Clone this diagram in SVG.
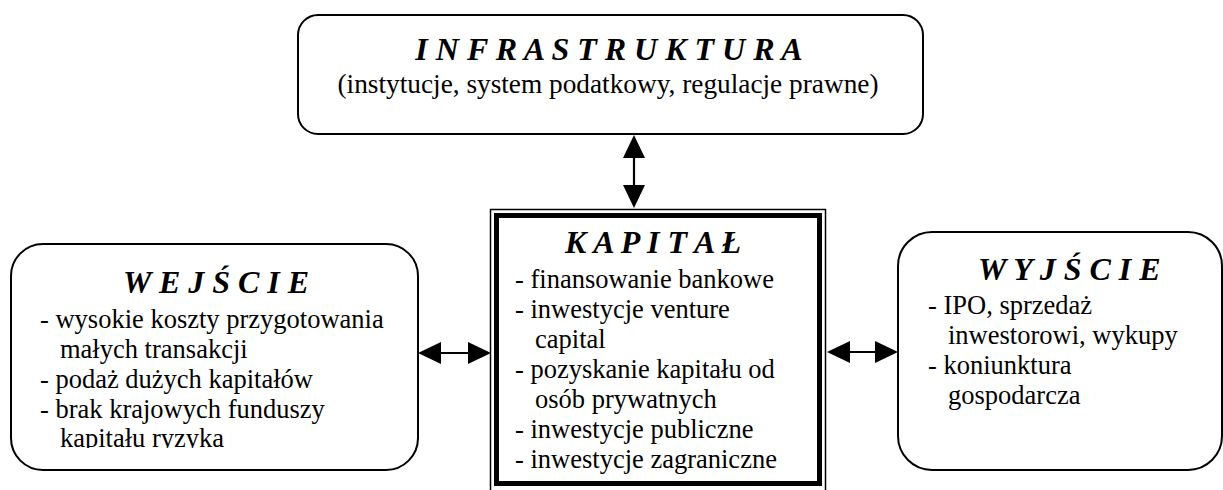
<svg xmlns="http://www.w3.org/2000/svg" width="1223" height="490" viewBox="0 0 1223 490">
<style>
.box{fill:#fff;stroke:#000;stroke-width:2}
.title{font-family:"Liberation Serif","Times New Roman",serif;font-weight:bold;font-style:italic;font-size:32px;fill:#000}
.txt{font-family:"Liberation Serif","Times New Roman",serif;font-size:26.5px;fill:#000}
.sub{font-family:"Liberation Serif","Times New Roman",serif;font-size:27.3px;fill:#000}
.conn{stroke:#000;stroke-width:2.2;fill:none}
</style>
<defs>
<marker id="ah" viewBox="0 0 23 22" refX="11" refY="11" markerWidth="23" markerHeight="22" markerUnits="userSpaceOnUse" orient="auto-start-reverse">
<path d="M0,0 L23,11 L0,22 z" fill="#000"/>
</marker>
<clipPath id="clipL"><rect x="0" y="0" width="430" height="448"/></clipPath>
</defs>
<rect width="1223" height="490" fill="#fff"/>
<g id="infrastruktura">
<rect class="box" x="298" y="15" width="625" height="119" rx="20" ry="20"/>
<text class="title" x="609" y="60" text-anchor="middle">I N F R A S T R U K T U R A</text>
<text class="sub" x="608" y="93" text-anchor="middle">(instytucje, system podatkowy, regulacje prawne)</text>
</g>
<g id="kapital">
<rect x="490.5" y="209.5" width="335" height="290" fill="#fff" stroke="#000" stroke-width="1.5"/>
<rect x="496.5" y="215.5" width="323" height="268" fill="none" stroke="#000" stroke-width="5"/>
<text class="title" x="565" y="253">K A P I T A Ł</text>
<text class="txt" x="515" y="288">- finansowanie bankowe</text>
<text class="txt" x="515" y="318">- inwestycje venture</text>
<text class="txt" x="535" y="348">capital</text>
<text class="txt" x="515" y="378">- pozyskanie kapitału od</text>
<text class="txt" x="535" y="408">osób prywatnych</text>
<text class="txt" x="515" y="438">- inwestycje publiczne</text>
<text class="txt" x="515" y="468">- inwestycje zagraniczne</text>
</g>
<g id="wejscie">
<rect class="box" x="11" y="244" width="407" height="226" rx="32" ry="32"/>
<text class="title" x="123" y="293">W E J Ś C I E</text>
<g clip-path="url(#clipL)">
<text class="txt" x="40" y="328">- wysokie koszty przygotowania</text>
<text class="txt" x="60" y="358">małych transakcji</text>
<text class="txt" x="40" y="388">- podaż dużych kapitałów</text>
<text class="txt" x="40" y="418">- brak krajowych funduszy</text>
<text class="txt" x="60" y="447">kapitału ryzyka</text>
</g>
</g>
<g id="wyjscie">
<rect class="box" x="898" y="232" width="324" height="238" rx="34" ry="34"/>
<text class="title" x="978" y="280">W Y J Ś C I E</text>
<text class="txt" x="928" y="314">- IPO, sprzedaż</text>
<text class="txt" x="948" y="344">inwestorowi, wykupy</text>
<text class="txt" x="928" y="374">- koniunktura</text>
<text class="txt" x="948" y="404">gospodarcza</text>
</g>
<g id="connectors">
<line class="conn" x1="634" y1="147" x2="634" y2="196" marker-start="url(#ah)" marker-end="url(#ah)"/>
<line class="conn" x1="430" y1="353" x2="479" y2="353" marker-start="url(#ah)" marker-end="url(#ah)"/>
<line class="conn" x1="839" y1="352" x2="886" y2="352" marker-start="url(#ah)" marker-end="url(#ah)"/>
</g>
</svg>
